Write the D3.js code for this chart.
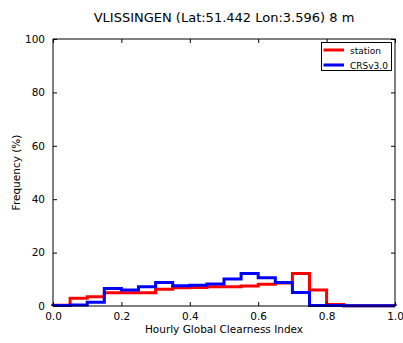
<!DOCTYPE html>
<html><head><meta charset="utf-8">
<script src="https://cdn.jsdelivr.net/npm/d3@7"></script>
<style>body{margin:0;background:#fff}svg{display:block}text{font-family:"DejaVu Sans",sans-serif}</style>
</head><body><svg id="c" width="403" height="343"></svg>
<script>
const title = "VLISSINGEN (Lat:51.442 Lon:3.596) 8 m";
const xLabel = "Hourly Global Clearness Index";
const yLabel = "Frequency (%)";
const binEdges = [0,0.05,0.1,0.15,0.2,0.25,0.3,0.35,0.4,0.45,0.5,0.55,0.6,0.65,0.7,0.75,0.8,0.85,0.9,0.95,1.0];
const stationValues = [0.3,2.9,3.5,5.0,5.0,5.0,6.3,6.8,6.9,7.2,7.2,7.5,8.1,8.6,12.2,6.0,0.6,0.1,0.1,0.1];
const crsValues = [0.2,0.4,1.4,6.6,6.0,7.2,8.8,7.6,7.8,8.2,10.1,12.2,10.6,8.8,5.1,0.2,0.2,0.1,0.1,0.1];
const xTicks = [0,0.2,0.4,0.6,0.8,1.0];
const yTicks = [0,20,40,60,80,100];
const seriesNames = ["station","CRSv3.0"];
const seriesColors = ["#ff0000","#0000ff"];

const svg = d3.select("#c");
const L=53, R=395, T=39, B=306;
const x = d3.scaleLinear().domain([0,1]).range([L,R]);
const y = d3.scaleLinear().domain([0,100]).range([B,T]);

svg.append("text").attr("x",(L+R)/2).attr("y",22).attr("text-anchor","middle")
  .attr("font-size",13).text(title);

function stepPath(vals){
  const pts=[[binEdges[0],0]];
  vals.forEach((v,i)=>{pts.push([binEdges[i],v]);pts.push([binEdges[i+1],v]);});
  pts.push([binEdges[binEdges.length-1],0]);
  return d3.line().x(d=>x(d[0])).y(d=>y(d[1]))(pts);
}
[stationValues,crsValues].forEach((vals,i)=>{
  svg.append("path").attr("d",stepPath(vals)).attr("fill","none")
    .attr("stroke",seriesColors[i]).attr("stroke-width",3).attr("stroke-linejoin","miter");
});

// frame
svg.append("rect").attr("x",L).attr("y",T).attr("width",R-L).attr("height",B-T)
  .attr("fill","none").attr("stroke","#000").attr("stroke-width",1);

// axes
const gx = svg.append("g").attr("transform",`translate(0,${B})`)
  .call(d3.axisBottom(x).tickValues(xTicks).tickFormat(d3.format(".1f")).tickSizeInner(-4).tickSizeOuter(0).tickPadding(7));
const gxt = svg.append("g").attr("transform",`translate(0,${T})`)
  .call(d3.axisTop(x).tickValues(xTicks).tickFormat("").tickSizeInner(-4).tickSizeOuter(0));
const gy = svg.append("g").attr("transform",`translate(${L},0)`)
  .call(d3.axisLeft(y).tickValues(yTicks).tickSizeInner(-4).tickSizeOuter(0).tickPadding(8));
const gyr = svg.append("g").attr("transform",`translate(${R},0)`)
  .call(d3.axisRight(y).tickValues(yTicks).tickFormat("").tickSizeInner(-4).tickSizeOuter(0));
[gx,gxt,gy,gyr].forEach(g=>{
  g.select(".domain").remove();
  g.selectAll("text").attr("font-size",10.5).attr("fill","#000").attr("font-family","DejaVu Sans, sans-serif");
  g.selectAll("line").attr("stroke","#000");
});

svg.append("text").attr("x",(L+R)/2).attr("y",333).attr("text-anchor","middle")
  .attr("font-size",10.5).text(xLabel);
svg.append("text").attr("transform",`translate(20,${(T+B)/2}) rotate(-90)`)
  .attr("text-anchor","middle").attr("font-size",10.5).text(yLabel);

// legend
const lg = svg.append("g");
lg.append("rect").attr("x",321.5).attr("y",42.5).attr("width",70).attr("height",28)
  .attr("fill","#fff").attr("stroke","#000").attr("stroke-width",1);
seriesNames.forEach((n,i)=>{
  const yy = 50 + i*15;
  lg.append("line").attr("x1",323.5).attr("x2",344).attr("y1",yy).attr("y2",yy)
    .attr("stroke",seriesColors[i]).attr("stroke-width",3);
  lg.append("text").attr("x",350).attr("y",yy+3.5).attr("font-size",9).text(n);
});
</script></body></html>
